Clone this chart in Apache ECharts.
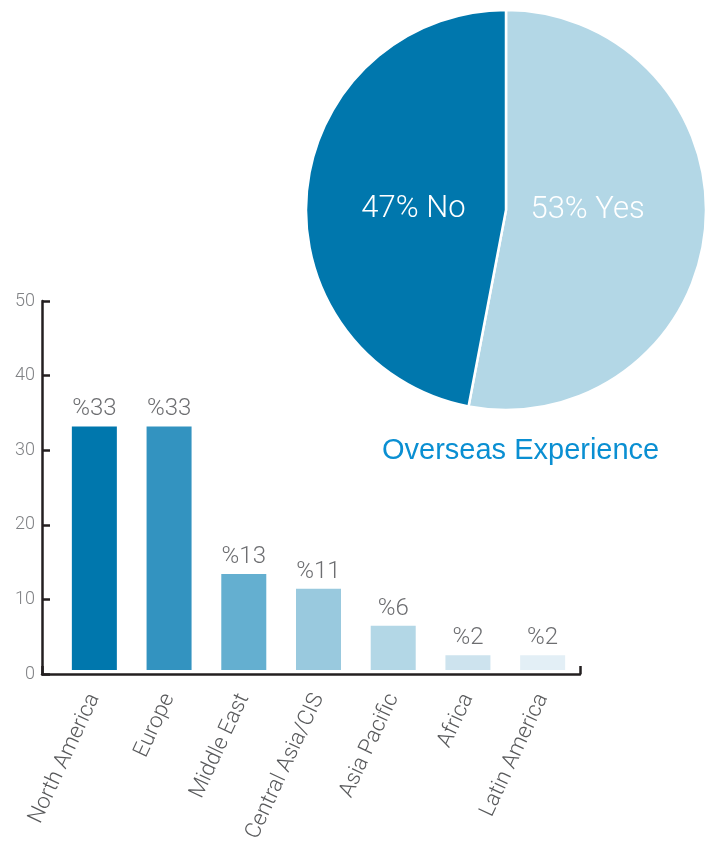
<!DOCTYPE html>
<html>
<head>
<meta charset="utf-8">
<title>Overseas Experience</title>
<script src="https://cdn.jsdelivr.net/npm/echarts@6/dist/echarts.min.js"></script>
<style>
  html, body { margin: 0; padding: 0; background: #ffffff; }
  #chart { width: 713px; height: 845px; }
</style>
</head>
<body>
<div id="chart"></div>
<script>
// Regional split of respondents (percent)
const regions = ['North America', 'Europe', 'Middle East', 'Central Asia/CIS', 'Asia Pacific', 'Africa', 'Latin America'];
const regionShares = [33, 33, 13, 11, 6, 2, 2];

// Overseas experience (percent)
const experienceLabels = ['Yes', 'No'];
const experienceShares = [53, 47];

// Value axis scale
const axisMin = 0;
const axisMax = 50;
const axisStep = 10;

// Palette
const barPalette = ['#0077ad', '#3393c0', '#64afd0', '#99c9de', '#b3d7e6', '#cde3ee', '#e3eff6'];
const piePalette = ['#b3d7e6', '#0077ad'];
const axisInk = '#231f20';
const lightFont = 'Roboto, "Liberation Sans", Arial, sans-serif';

const chart = echarts.init(document.getElementById('chart'), null, { renderer: 'canvas' });

const option = {
  backgroundColor: '#ffffff',
  animation: false,
  title: {
    text: 'Overseas Experience',
    left: 377,
    top: 431,
    textStyle: {
      color: '#0a8fd2',
      fontFamily: '"Liberation Sans", Arial, sans-serif',
      fontWeight: 'normal',
      fontSize: 29
    }
  },
  grid: [
    // plotting area for the bars
    { left: 57, right: 133, top: 301, bottom: 171 },
    // frame carrying the axis lines and ticks
    { left: 42, right: 133, top: 301, bottom: 171 }
  ],
  xAxis: [
    {
      type: 'category',
      gridIndex: 0,
      data: regions,
      axisLine: { show: false },
      axisTick: { show: false },
      axisLabel: {
        rotate: 65,
        margin: 25,
        interval: 0,
        color: '#58595b',
        fontFamily: lightFont,
        fontWeight: 300,
        fontSize: 22
      }
    },
    {
      type: 'value',
      gridIndex: 1,
      min: 0,
      max: 1,
      interval: 1,
      axisLine: { show: true, lineStyle: { color: axisInk, width: 2.5 } },
      axisTick: { show: true, inside: true, length: 8, lineStyle: { color: axisInk, width: 2.5 } },
      axisLabel: { show: false },
      splitLine: { show: false }
    }
  ],
  yAxis: [
    {
      type: 'value',
      gridIndex: 0,
      min: axisMin,
      max: axisMax,
      interval: axisStep,
      show: false,
      splitLine: { show: false }
    },
    {
      type: 'value',
      gridIndex: 1,
      min: axisMin,
      max: axisMax,
      interval: axisStep,
      axisLine: { show: true, lineStyle: { color: axisInk, width: 2.5 } },
      axisTick: { show: true, inside: true, length: 8, lineStyle: { color: axisInk, width: 2.5 } },
      axisLabel: {
        margin: 7,
        color: '#808285',
        fontFamily: lightFont,
        fontWeight: 300,
        fontSize: 18
      },
      splitLine: { show: false }
    }
  ],
  series: [
    {
      type: 'bar',
      name: 'Region',
      xAxisIndex: 0,
      yAxisIndex: 0,
      barWidth: 45,
      data: regionShares.map((v, i) => ({ value: v, itemStyle: { color: barPalette[i] } })),
      label: {
        show: true,
        position: 'top',
        distance: 5,
        formatter: p => '%' + p.value,
        color: '#6d6e71',
        fontFamily: lightFont,
        fontWeight: 300,
        fontSize: 24
      }
    },
    {
      type: 'pie',
      name: 'Overseas Experience',
      center: [506, 210],
      radius: 200,
      startAngle: 90,
      clockwise: true,
      data: experienceLabels.map((name, i) => ({
        name: name,
        value: experienceShares[i],
        itemStyle: { color: piePalette[i] }
      })),
      itemStyle: { borderColor: '#ffffff', borderWidth: 2.5 },
      label: {
        show: true,
        position: 'inner',
        formatter: p => p.value + '% ' + p.name,
        color: '#ffffff',
        fontFamily: lightFont,
        fontWeight: 300,
        fontSize: 31
      },
      labelLine: { show: false },
      labelLayout: p => (p.dataIndex === 0 ? { dx: -21, dy: -9 } : { dx: 10, dy: 9 }),
      emphasis: { disabled: true }
    }
  ]
};

chart.setOption(option);
</script>
</body>
</html>
